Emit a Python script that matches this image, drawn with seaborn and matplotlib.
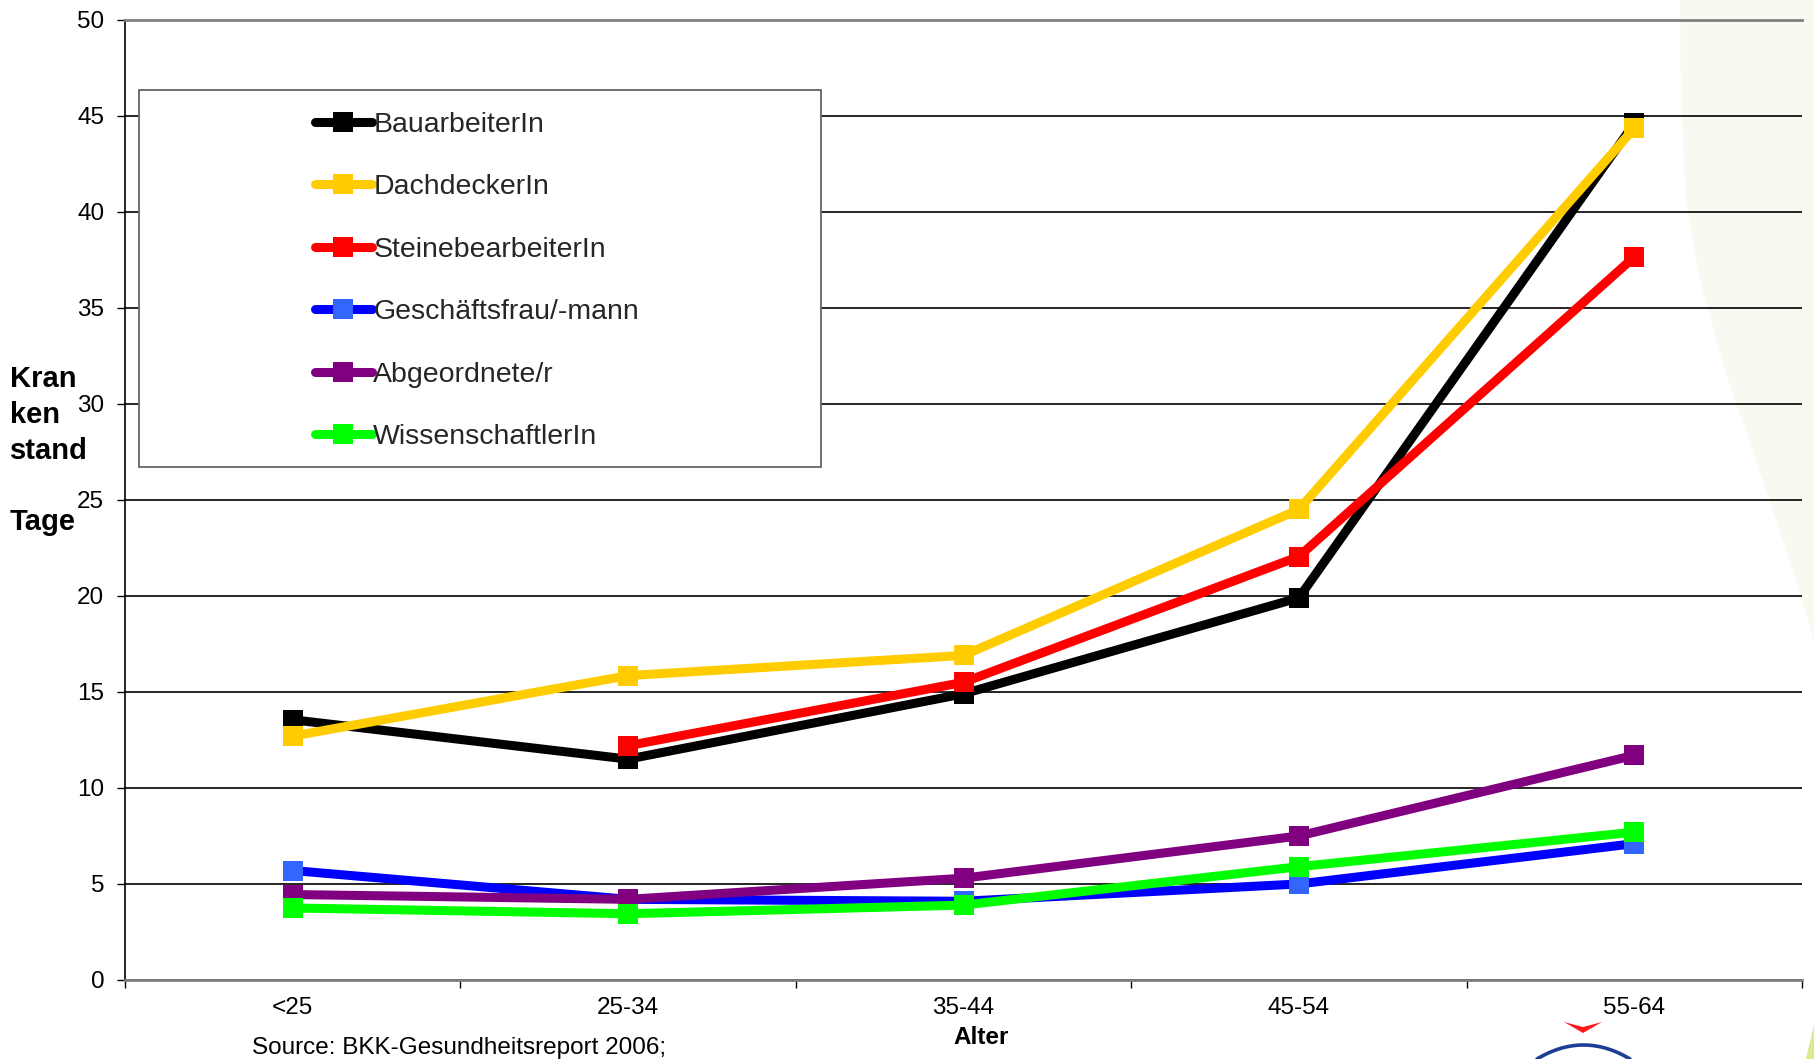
import numpy as np
import pandas as pd
import matplotlib
matplotlib.use("Agg")
import matplotlib.pyplot as plt
import seaborn as sns
from matplotlib.lines import Line2D
from matplotlib.patches import Rectangle, Polygon

# Sick-leave days by age group and occupation
age_groups = ["<25", "25-34", "35-44", "45-54", "55-64"]
bauarbeiter = [13.55, 11.5, 14.9, 19.9, 44.6]
dachdecker = [12.7, 15.85, 16.9, 24.5, 44.35]
steinebearbeiter = [np.nan, 12.2, 15.5, 22.05, 37.65]
geschaeftsleute = [5.7, 4.2, 4.1, 5.0, 7.1]
abgeordnete = [4.45, 4.2, 5.3, 7.5, 11.7]
wissenschaftler = [3.75, 3.45, 3.9, 5.9, 7.7]

series_names = ["BauarbeiterIn", "DachdeckerIn", "SteinebearbeiterIn",
                "Geschäftsfrau/-mann", "Abgeordnete/r", "WissenschaftlerIn"]
series_values = [bauarbeiter, dachdecker, steinebearbeiter,
                 geschaeftsleute, abgeordnete, wissenschaftler]
line_colors = ["#000000", "#FFCC00", "#FF0000", "#0000FF", "#800080", "#00FF00"]
marker_colors = ["#000000", "#FFCC00", "#FF0000", "#3366FF", "#800080", "#00FF00"]
y_ticks = [0, 5, 10, 15, 20, 25, 30, 35, 40, 45, 50]

records = []
for name, vals in zip(series_names, series_values):
    for grp, v in zip(age_groups, vals):
        records.append({"Alter": grp, "Tage": v, "Beruf": name})
df = pd.DataFrame(records)

sns.set_style("white")
plt.rcParams["font.family"] = ["Liberation Sans", "DejaVu Sans"]

W, H = 1814, 1059
fig = plt.figure(figsize=(W / 100, H / 100), dpi=100, facecolor="white")


def fx(px):
    return px / W


def fy(py):
    return 1 - py / H


# faint decorative background swoosh on the right
swoosh = [(1680, 0), (1681, 100), (1686, 200), (1700, 280), (1725, 370),
          (1757, 464), (1785, 545), (1814, 640), (1814, 0)]
fig.add_artist(Polygon([(fx(x), fy(y)) for x, y in swoosh], closed=True,
                       transform=fig.transFigure, facecolor="#f8f9f0",
                       edgecolor="none", zorder=-2))
fig.add_artist(Polygon([(fx(1806), fy(1059)), (fx(1814), fy(1025)), (fx(1814), fy(1059))],
                       closed=True, transform=fig.transFigure, facecolor="#dfe88f",
                       edgecolor="none", zorder=-2))

ax = fig.add_axes([fx(125), fy(980), fx(1802) - fx(125), fy(19.7) - fy(980)])
ax.set_facecolor("none")

sns.lineplot(data=df, x="Alter", y="Tage", hue="Beruf", hue_order=series_names,
             palette=dict(zip(series_names, line_colors)), marker="s",
             markersize=14.5, linewidth=6.5, markeredgewidth=0, legend=False,
             sort=False, estimator=None, ax=ax)
for line, mc in zip(ax.lines, marker_colors):
    line.set_markerfacecolor(mc)
    line.set_markeredgecolor(mc)
    line.set_zorder(3)

ax.set_xlim(-0.5, len(age_groups) - 0.5)
ax.set_ylim(0, 50)
ax.set_yticks(y_ticks)
ax.set_xticks(range(len(age_groups)))
ax.set_xticklabels(age_groups)
ax.set_xticks(np.arange(-0.5, len(age_groups), 1), minor=True)
ax.set_xlabel("")
ax.set_ylabel("")

ax.yaxis.grid(True, color="black", linewidth=1.2, zorder=1)
ax.set_axisbelow(True)
ax.tick_params(axis="y", which="major", left=True, length=6, width=1.0,
               color="black", pad=9, labelsize=17.5, labelcolor="black")
ax.tick_params(axis="x", which="major", bottom=True, length=0, pad=12,
               labelsize=17.5, labelcolor="black")
ax.tick_params(axis="x", which="minor", bottom=True, length=6, width=1.0,
               color="black")

ax.spines["right"].set_visible(False)
ax.spines["left"].set_color("black")
ax.spines["left"].set_linewidth(1.2)
ax.spines["bottom"].set_color("#808080")
ax.spines["bottom"].set_linewidth(2.0)
ax.spines["top"].set_color("#808080")
ax.spines["top"].set_linewidth(2.0)

# legend frame and entries
ax_w, ax_h = 1677, 960.3
frame_l, frame_r = (139 - 125) / ax_w, (821 - 125) / ax_w
frame_b, frame_t = (980 - 467) / ax_h, (980 - 90) / ax_h
ax.add_patch(Rectangle((frame_l, frame_b), frame_r - frame_l, frame_t - frame_b,
                       transform=ax.transAxes, facecolor="white",
                       edgecolor="#666666", linewidth=1.3, zorder=4))
handles = [Line2D([0], [0], color=lc, linewidth=6.5, marker="s", markersize=14.5,
                  markerfacecolor=mc, markeredgecolor=mc, markeredgewidth=0,
                  solid_capstyle="round")
           for lc, mc in zip(line_colors, marker_colors)]
leg = ax.legend(handles, series_names, loc="upper left",
                bbox_to_anchor=((315 - 125) / ax_w, (980 - 112) / ax_h),
                frameon=False, borderpad=0, borderaxespad=0, handlelength=2.0,
                handletextpad=0.05, labelspacing=1.28, fontsize=20.5, numpoints=1)
leg.set_zorder(5)

# y-axis title, one word fragment per line
for txt, ypix in [("Kran", 379.5), ("ken", 415.4), ("stand", 451.2), ("Tage", 521.8)]:
    fig.text(fx(9.5), fy(ypix), txt, fontsize=21, fontweight="bold",
             ha="left", va="center", color="black")

fig.text(fx(981), fy(1037), "Alter", fontsize=17.5, fontweight="bold",
         ha="center", va="center", color="black")
fig.text(fx(252), fy(1048), "Source: BKK-Gesundheitsreport 2006;", fontsize=17.5,
         ha="left", va="center", color="black")

# small logo fragment at the bottom edge
fig.add_artist(Polygon([(fx(1564), fy(1022)), (fx(1583), fy(1027)), (fx(1602), fy(1022)),
                        (fx(1583), fy(1033))], closed=True, transform=fig.transFigure,
                       facecolor="#ff1a1a", edgecolor="none", zorder=6))
t = np.linspace(0, 1, 40)
arc_x = 1537 + (1630 - 1537) * t
arc_y = 1059 - 14 * (1 - (2 * t - 1) ** 2)
fig.add_artist(Line2D(fx(arc_x), fy(arc_y), transform=fig.transFigure,
                      color="#1c3f94", linewidth=2.6, zorder=6))

fig.savefig("out.png", dpi=100, facecolor="white")
